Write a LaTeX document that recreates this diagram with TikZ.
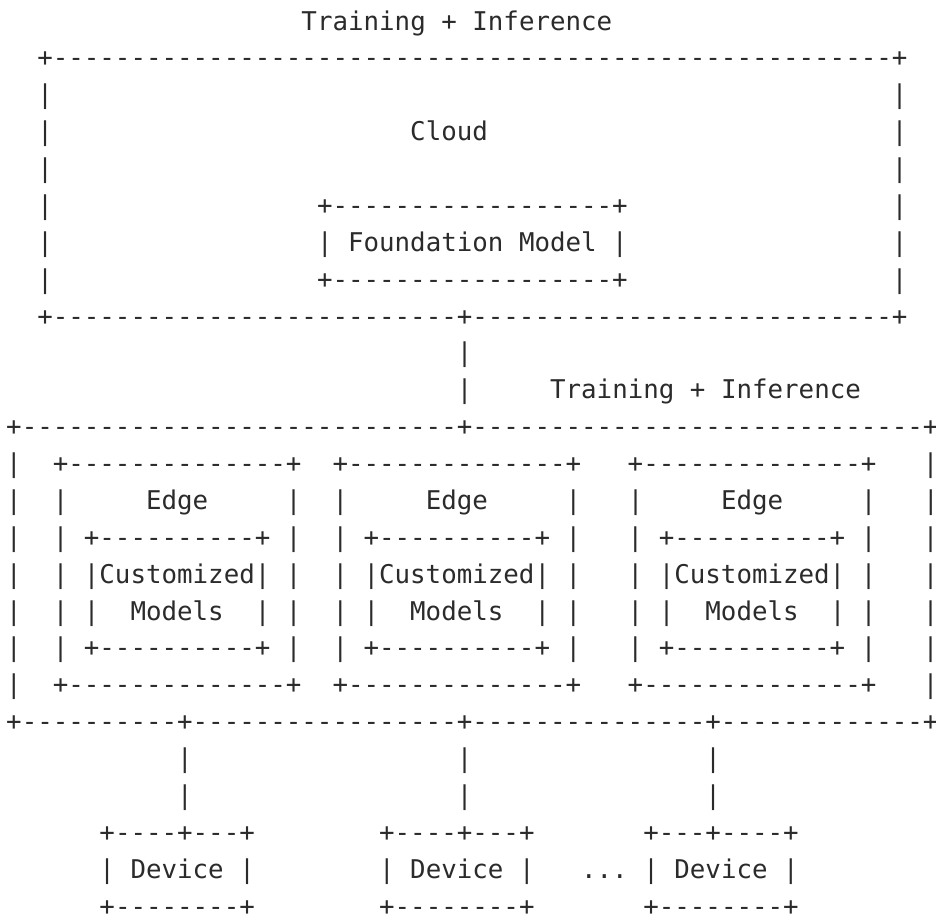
\documentclass[tikz,border=0pt]{standalone}
\usepackage{fontspec}
\setmonofont{DejaVu Sans Mono}
\ExplSyntaxOn
\cs_new:Npn \asciirep #1#2 { \prg_replicate:nn {#1} {#2} }
\ExplSyntaxOff
\definecolor{ink}{HTML}{2B2B2B}
\tikzset{
  asciiline/.style={anchor=base west, inner sep=0pt, outer sep=0pt,
    font=\ttfamily\fontsize{25.81}{30}\selectfont, text=ink}
}
% one text row of the chart: #1 = row number, #2 = starting column, #3 = characters
\newcommand\asciiline[3]{%
  \node[asciiline] (row#1) at ({6.23+15.54*#2},{30+36.88*(#1-1)}) {#3};}

\begin{document}
\begin{tikzpicture}[x=1pt,y=-1pt]
\fill[white] (0,0) rectangle (936,916);
\useasboundingbox (0,0) rectangle (936,916);

% cloud tier
\asciiline{1}{19}{Training~+~Inference}
\asciiline{2}{2}{+\asciirep{54}{-}+}
\asciiline{3}{2}{|\asciirep{54}{~}|}
\asciiline{4}{2}{|\asciirep{23}{~}Cloud\asciirep{26}{~}|}
\asciiline{5}{2}{|\asciirep{54}{~}|}
\asciiline{6}{2}{|\asciirep{17}{~}+\asciirep{18}{-}+\asciirep{17}{~}|}
\asciiline{7}{2}{|\asciirep{17}{~}|~Foundation~Model~|\asciirep{17}{~}|}
\asciiline{8}{2}{|\asciirep{17}{~}+\asciirep{18}{-}+\asciirep{17}{~}|}
\asciiline{9}{2}{+\asciirep{26}{-}+\asciirep{27}{-}+}
\asciiline{10}{29}{|}
\asciiline{11}{29}{|~~~~~Training~+~Inference}

% edge tier
\asciiline{12}{0}{+\asciirep{28}{-}+\asciirep{29}{-}+}
\asciiline{13}{0}{|~~+\asciirep{14}{-}+~~+\asciirep{14}{-}+~~~+\asciirep{14}{-}+~~~|}
\asciiline{14}{0}{|~~|~~~~~Edge~~~~~|~~|~~~~~Edge~~~~~|~~~|~~~~~Edge~~~~~|~~~|}
\asciiline{15}{0}{|~~|~+\asciirep{10}{-}+~|~~|~+\asciirep{10}{-}+~|~~~|~+\asciirep{10}{-}+~|~~~|}
\asciiline{16}{0}{|~~|~|Customized|~|~~|~|Customized|~|~~~|~|Customized|~|~~~|}
\asciiline{17}{0}{|~~|~|~~Models~~|~|~~|~|~~Models~~|~|~~~|~|~~Models~~|~|~~~|}
\asciiline{18}{0}{|~~|~+\asciirep{10}{-}+~|~~|~+\asciirep{10}{-}+~|~~~|~+\asciirep{10}{-}+~|~~~|}
\asciiline{19}{0}{|~~+\asciirep{14}{-}+~~+\asciirep{14}{-}+~~~+\asciirep{14}{-}+~~~|}
\asciiline{20}{0}{+\asciirep{10}{-}+\asciirep{17}{-}+\asciirep{15}{-}+\asciirep{13}{-}+}

% device tier
\asciiline{21}{11}{|\asciirep{17}{~}|\asciirep{15}{~}|}
\asciiline{22}{11}{|\asciirep{17}{~}|\asciirep{15}{~}|}
\asciiline{23}{6}{+----+---+\asciirep{8}{~}+----+---+\asciirep{7}{~}+---+----+}
\asciiline{24}{6}{|~Device~|\asciirep{8}{~}|~Device~|~~~...~|~Device~|}
\asciiline{25}{6}{+\asciirep{8}{-}+\asciirep{8}{~}+\asciirep{8}{-}+\asciirep{7}{~}+\asciirep{8}{-}+}
\end{tikzpicture}
\end{document}
